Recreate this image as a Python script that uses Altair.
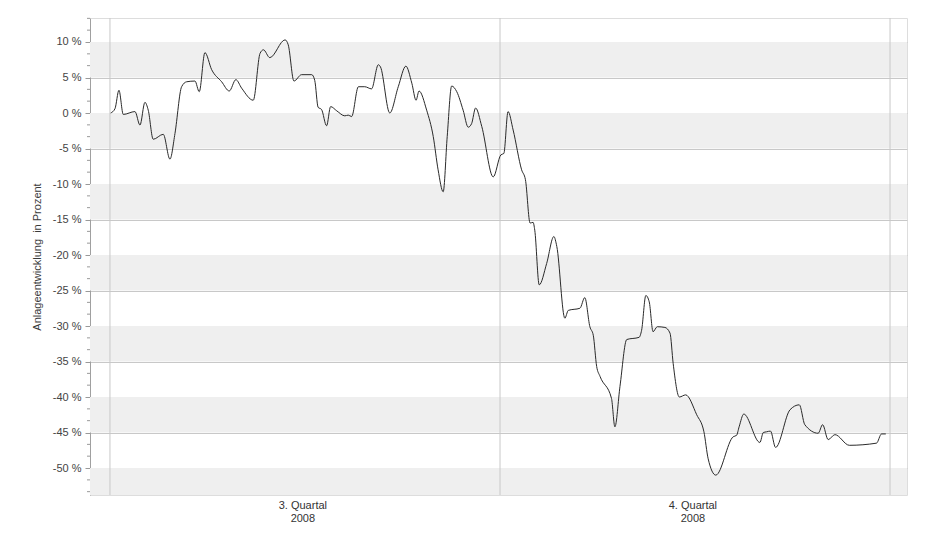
import altair as alt
import pandas as pd

# Tage seit 1. Juli 2008 und Anlageentwicklung in Prozent
days = [0.17, 1.18, 2.12, 3.14, 5.9, 7.08, 8.25, 9.03, 10.2, 12.57, 14.15, 15.33, 16.9, 18.1,
        20.05, 21.06, 22.4, 23.99, 26.34, 28.14, 29.7, 31.06, 33.8, 35.4, 36.2, 37.7, 41.3,
        42.05, 43.4, 45.2, 47.6, 48.3, 49.1, 49.9, 51.1, 52.05, 53.5, 55.4, 56.2, 57.0, 58.6,
        60.1, 61.7, 63.3, 63.8, 66.0, 68.0, 69.8, 71.2, 72.2, 72.9, 74.7, 76.25, 77.4, 78.6,
        79.55, 80.6, 81.8, 83.3, 84.5, 85.3, 86.25, 87.7, 90.4, 92.2, 92.9, 93.9, 95.1, 97.1,
        98.0, 99.1, 99.8, 100.2, 101.25, 103.0, 104.7, 105.4, 107.3, 108.1, 110.85, 112.0,
        113.2, 114.0, 114.8, 115.6, 118.3, 119.1, 120.3, 121.9, 124.8, 125.4, 126.4, 127.2,
        128.1, 129.1, 130.9, 132.1, 132.85, 134.3, 135.8, 138.4, 140.1, 141.1, 142.9, 147.0,
        147.8, 148.4, 149.5, 153.3, 154.1, 154.9, 155.8, 157.0, 160.4, 162.6, 163.9, 167.05,
        168.1, 169.4, 171.0, 174.4, 180.8, 182.0, 183.0]
values = [0.0, 0.6, 3.2, -0.2, 0.2, -1.7, 1.5, 0.4, -3.7, -3.0, -6.5, -2.9, 3.7, 4.4,
          4.5, 3.0, 8.5, 6.1, 4.4, 3.1, 4.7, 3.5, 1.8, 8.4, 8.9, 7.8, 10.3,
          9.6, 4.5, 5.4, 5.4, 4.6, 0.8, 0.5, -1.8, 0.9, 0.3, -0.4, -0.3, -0.5, 3.7,
          3.7, 3.4, 6.8, 6.5, 0.0, 3.7, 6.6, 4.2, 1.8, 3.1, 0.4, -3.3, -8.0, -11.1,
          -3.3, 3.8, 3.0, 0.4, -2.0, -1.5, 0.7, -1.9, -9.0, -5.9, -5.7, 0.2, -2.4, -8.0,
          -9.4, -15.5, -15.4, -16.5, -24.2, -21.2, -17.4, -18.8, -28.9, -27.8, -27.5, -26.0,
          -30.1, -31.3, -35.7, -37.1, -40.2, -44.2, -38.5, -31.9, -31.6, -30.6, -25.7, -26.6,
          -30.8, -30.1, -30.2, -31.0, -35.3, -40.0, -39.7, -42.5, -44.9, -48.7, -51.0, -45.6,
          -45.4, -44.2, -42.4, -46.4, -45.0, -44.9, -44.8, -47.1, -41.8, -41.1, -43.9, -45.1,
          -43.9, -46.0, -45.3, -46.8, -46.5, -45.2, -45.2]

quarter_starts = ["2008-07-01T00:00:00", "2008-10-01T00:00:00", "2009-01-01T00:00:00"]
quarter_label_dates = ["2008-08-15T12:00:00", "2008-11-15T12:00:00"]
quarter_labels = ["3. Quartal\n2008", "4. Quartal\n2008"]
band_tops = [10, 0, -10, -20, -30, -40, -50]
major_ticks = [10, 5, 0, -5, -10, -15, -20, -25, -30, -35, -40, -45, -50]
minor_ticks = [13.33, 11.67, 8.33, 6.67, 3.33, 1.67, -1.67, -3.33, -6.67, -8.33, -11.67, -13.33,
               -16.67, -18.33, -21.67, -23.33, -26.67, -28.33, -31.67, -33.33, -36.67, -38.33,
               -41.67, -43.33, -46.67, -48.33, -51.67, -53.33]

W, H = 817, 477
FONT = "Liberation Sans"

df = pd.DataFrame({
    "Datum": pd.Timestamp("2008-07-01") + pd.to_timedelta(days, unit="D"),
    "Wert": values,
})
df["Datum"] = df["Datum"].dt.strftime("%Y-%m-%dT%H:%M:%S")
bands = pd.DataFrame({"top": band_tops, "bottom": [t - 5 for t in band_tops]})
qdf = pd.DataFrame({"Datum": quarter_starts})
ldf = pd.DataFrame({"Datum": quarter_label_dates, "label": quarter_labels})
mdf = pd.DataFrame({"v": minor_ticks})

xscale = alt.Scale(domain=[alt.DateTime(year=2008, month=6, date=26, hours=7),
                           alt.DateTime(year=2009, month=1, date=5)])
yscale = alt.Scale(domain=[-53.8, 13.38], nice=False, zero=False)
yaxis = alt.Axis(values=major_ticks, labelExpr="datum.value + ' %'",
                 title="Anlageentwicklung\u00a0\u00a0in Prozent", titleFontSize=11,
                 titleFontWeight="normal", titleColor="#3a3a3a", titleFont=FONT,
                 labelFont=FONT, labelFontSize=11, labelColor="#444444",
                 tickSize=5, tickColor="#999999", domainColor="#a0a0a0",
                 gridColor="#c8c8c8", grid=True, labelPadding=4, titlePadding=10)

band_layer = alt.Chart(bands).mark_rect(color="#efefef", clip=True).encode(
    x=alt.value(0), x2=alt.value(W),
    y=alt.Y("top:Q", scale=yscale, axis=yaxis), y2="bottom:Q")

quarter_rules = alt.Chart(qdf).mark_rule(color="#c8c8c8", strokeWidth=1).encode(
    x=alt.X("Datum:T", scale=xscale, axis=None))

minor_layer = alt.Chart(mdf).mark_rule(color="#999999", strokeWidth=1).encode(
    y=alt.Y("v:Q", scale=yscale, axis=yaxis), x=alt.value(-3), x2=alt.value(0))

line = alt.Chart(df).mark_line(color="#2a2a2a", strokeWidth=1, interpolate="monotone").encode(
    x=alt.X("Datum:T", scale=xscale, axis=None),
    y=alt.Y("Wert:Q", scale=yscale, axis=yaxis))

labels = alt.Chart(ldf).mark_text(lineBreak="\n", baseline="top", fontSize=11, font=FONT,
                                  color="#333333", lineHeight=13).encode(
    x=alt.X("Datum:T", scale=xscale, axis=None), y=alt.value(H + 5), text="label:N")

chart = alt.layer(band_layer, quarter_rules, minor_layer, line, labels).properties(
    width=W, height=H,
    autosize=alt.AutoSizeParams(type="none"),
    padding={"left": 82, "top": 10, "right": 15, "bottom": 40},
).configure_view(stroke="#b4b4b4", strokeWidth=1).configure(background="white")

chart.save("out.html", embed_options={"renderer": "svg", "actions": False})
